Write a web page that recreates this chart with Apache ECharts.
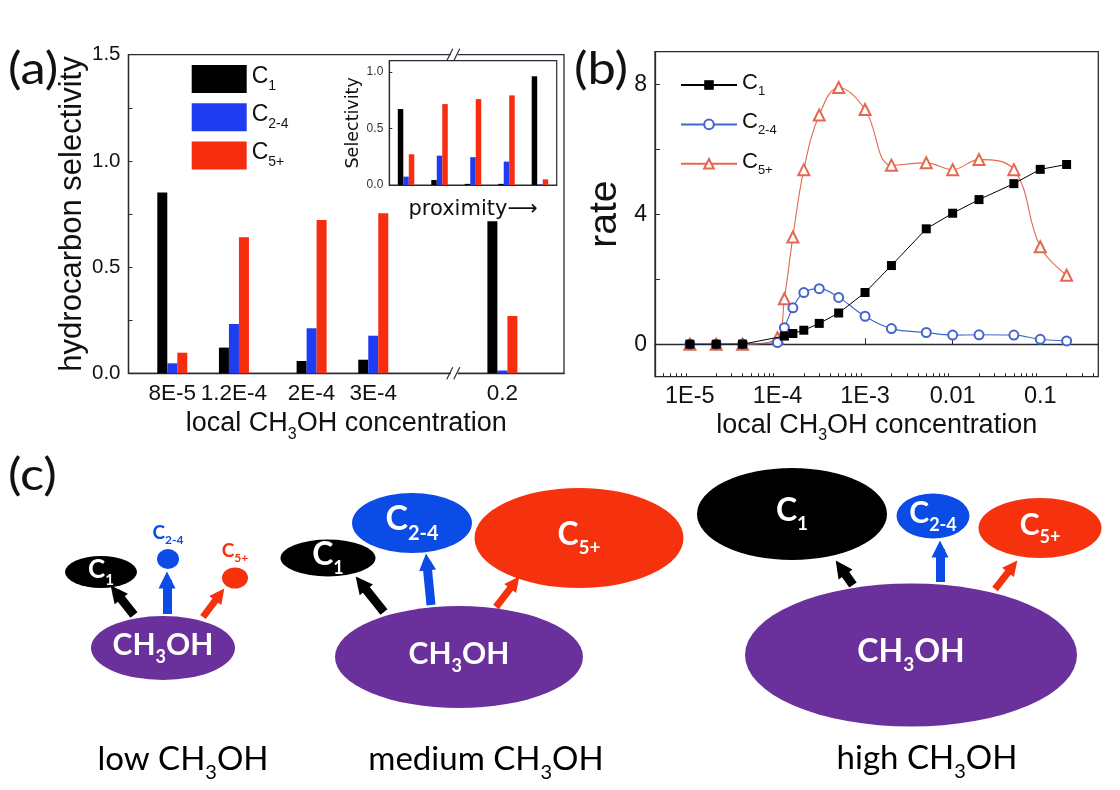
<!DOCTYPE html>
<html><head><meta charset="utf-8">
<script src="https://cdn.jsdelivr.net/npm/echarts@6/dist/echarts.min.js"></script>
<style>html,body{margin:0;padding:0;background:#fff}#c{width:1120px;height:790px}</style>
</head><body><div id="c"></div>
<script>
// ---------------- DATA ----------------
// Panel (a): hydrocarbon selectivity vs local CH3OH concentration
const aConc = [8e-5, 1.2e-4, 2e-4, 3e-4, 0.2];
const aConcLabels = ['8E-5', '1.2E-4', '2E-4', '3E-4', '0.2'];
const aC1  = [0.851, 0.121, 0.058, 0.064, 0.716];
const aC24 = [0.047, 0.232, 0.212, 0.177, 0.013];
const aC5  = [0.097, 0.641, 0.722, 0.754, 0.270];
const aTicks = [0, 0.5, 1.0, 1.5];
// Inset: selectivity vs proximity
const insetCats = ['1', '2', '3', '4', '5'];
const inC1  = [0.672, 0.044, 0.010, 0.010, 0.962];
const inC24 = [0.074, 0.260, 0.246, 0.207, 0.006];
const inC5  = [0.272, 0.716, 0.760, 0.793, 0.050];
// Panel (b): rate vs local CH3OH concentration
const bConcC1 = [1e-5, 2e-5, 4e-5, 1.2e-4, 1.5e-4, 2e-4, 3e-4, 5e-4, 1e-3, 2e-3, 5e-3, 0.01, 0.02, 0.05, 0.1, 0.2];
const bC1     = [0, 0, 0, 0.25, 0.33, 0.43, 0.64, 0.96, 1.59, 2.42, 3.55, 4.03, 4.45, 4.94, 5.38, 5.53];
const bConc   = [1e-5, 2e-5, 4e-5, 1e-4, 1.2e-4, 1.5e-4, 2e-4, 3e-4, 5e-4, 1e-3, 2e-3, 5e-3, 0.01, 0.02, 0.05, 0.1, 0.2];
const bC24    = [0, 0, 0.01, 0.05, 0.51, 1.12, 1.59, 1.71, 1.44, 0.86, 0.48, 0.36, 0.28, 0.29, 0.28, 0.15, 0.10];
const bC5     = [0, 0, 0, 0.20, 1.40, 3.30, 5.37, 7.05, 7.90, 7.22, 5.51, 5.58, 5.37, 5.68, 5.37, 3.00, 2.12];
const bXTicks = [1e-5, 1e-4, 1e-3, 0.01, 0.1];
const bXTickLabels = ['1E-5', '1E-4', '1E-3', '0.01', '0.1'];
const bYLabels = [0, 4, 8];
// Panel (c): schematic (species and CH3OH levels)
const cLevels = ['low', 'medium', 'high'];
const cSpecies = ['C1', 'C2-4', 'C5+', 'CH3OH'];

// ---------------- LAYOUT / STYLE ----------------
const AX = '#2a2a33', TXT = '#111';
const ARIAL = 'Liberation Sans', VERD = 'DejaVu Sans', CAL = 'Lato';
const COL = { c1: '#000000', c24: '#1e3cf2', c5: '#f72d0f' };
const BCOL = { c1: '#000000', c24: '#4466cc', c5: '#e4674f' };
const CCOL = { 'C1': '#000000', 'C2-4': '#0b4be6', 'C5+': '#f5320d', 'CH3OH': '#6a309c' };
// axis break of panel (a): log10 display coordinate
const A_BREAK_LOG = -3.29, A_GAP_SHIFT = 2.455;
const aPos = c => { const l = Math.log10(c); return l > A_BREAK_LOG ? l - A_GAP_SHIFT : l; };

// schematic geometry: [cx, cy, w, h] per species (C1, C2-4, C5+, CH3OH)
const cGeom = {
  low:    [[101, 572, 72, 32], [168, 559, 22, 20], [235, 578, 26, 21], [163, 648, 144, 64]],
  medium: [[328, 558, 95, 37], [412, 523, 120, 60], [579, 538, 209, 100], [459, 657, 248, 102]],
  high:   [[792, 514, 190, 92], [933, 516, 73, 45], [1040, 528, 123, 60], [911, 655, 332, 143]]
};
const cFont = {
  low:    [[26, 15], [19, 12], [19, 12], [30, 18]],
  medium: [[32, 18], [34, 20], [32, 19], [30, 18]],
  high:   [[32, 19], [30, 18], [30, 18], [32, 19]]
};
// arrows: [tail, tip] for C1, C2-4, C5+
const cArrows = {
  low:    [[[134, 615], [111, 586]], [[167, 614], [167, 572]], [[203, 617], [224, 589]]],
  medium: [[[384, 612], [356, 577]], [[431, 605], [426, 554]], [[496, 607], [519, 577]]],
  high:   [[[853, 585], [836, 561]], [[940, 582], [940, 541]], [[995, 589], [1017, 561]]]
};
const cLevelLabelPos = { low: [183, 763], medium: [486, 763], high: [927, 762] };

// ---------------- HELPERS ----------------
function subRich(F, S, color, family, weight) {
  return {
    m: { fontSize: F, lineHeight: F, verticalAlign: 'top', color: color, fontFamily: family, fontWeight: weight || 'normal' },
    s: { fontSize: S, verticalAlign: 'top', color: color, fontFamily: family, fontWeight: weight || 'normal',
         padding: [Math.round(0.9 * F - S / 2), 0, 0, 0] }
  };
}
function speciesRich(name) {
  if (name === 'CH3OH') return '{m|CH}{s|3}{m|OH}';
  return '{m|C}{s|' + name.slice(1) + '}';
}

const chart = echarts.init(document.getElementById('c'), null, { renderer: 'canvas' });

// panel (b) minor ticks (2..9 per decade) inside the axis range
const bMinor = [];
for (let d = -6; d <= -1; d++) for (let k = 2; k <= 9; k++) { const v = k * Math.pow(10, d); if (v > 4e-6 && v < 0.46) bMinor.push(v); }

// panel (c) nodes & arrows
const cNodes = [], cArrowSeries = { 'C1': [], 'C2-4': [], 'C5+': [] };
cLevels.forEach(lv => {
  cSpecies.forEach((sp, i) => {
    const g = cGeom[lv][i], f = cFont[lv][i];
    const outside = lv === 'low' && (sp === 'C2-4' || sp === 'C5+');
    cNodes.push({
      value: g,
      itemStyle: { color: CCOL[sp], opacity: 1 },
      label: {
        show: true, position: outside ? 'top' : 'inside', distance: 3,
        formatter: speciesRich(sp),
        rich: subRich(f[0], f[1], outside ? CCOL[sp] : '#ffffff', CAL, 'bold')
      }
    });
  });
  ['C1', 'C2-4', 'C5+'].forEach((sp, i) => {
    const a = cArrows[lv][i];
    const dx = a[1][0] - a[0][0], dy = a[1][1] - a[0][1], L = Math.hypot(dx, dy);
    const hs = sp === 'C5+' ? 7 : 8;
    cArrowSeries[sp].push({ coords: [a[0], [a[1][0] - dx / L * hs, a[1][1] - dy / L * hs]] });
  });
});

const option = {
  animation: false,
  backgroundColor: '#fff',
  textStyle: { fontFamily: ARIAL },
  grid: [
    { left: 128.5, top: 54.7, width: 435.5, height: 318.6, show: true, borderColor: AX, borderWidth: 1.3, backgroundColor: 'transparent', outerBoundsMode: 'none' },
    { left: 389.3, top: 60.7, width: 167.4, height: 124.3, show: true, borderColor: AX, borderWidth: 1.2, backgroundColor: '#fff', outerBoundsMode: 'none' },
    { left: 655, top: 51.7, width: 443.3, height: 325, show: true, borderColor: AX, borderWidth: 1.3, backgroundColor: 'transparent', outerBoundsMode: 'none' },
    { left: 0, top: 0, width: 1120, height: 790, show: false, outerBoundsMode: 'none' }
  ],
  legend: [
    {
      data: ['C1', 'C2-4', 'C5+'], orient: 'vertical', left: 191.7, top: 65, padding: 0,
      itemWidth: 55, itemHeight: 28, itemGap: 10.3, icon: 'rect', selectedMode: false,
      formatter: n => speciesRich(n),
      textStyle: { rich: subRich(23, 14, TXT, ARIAL) }
    },
    {
      data: ['rate C1', 'rate C2-4', 'rate C5+'], orient: 'vertical', left: 680, top: 72, padding: 0,
      itemWidth: 56, itemHeight: 12, itemGap: 13.4, selectedMode: false,
      formatter: n => speciesRich(n.replace('rate ', '')),
      textStyle: { rich: subRich(22, 13, TXT, ARIAL) }
    }
  ],
  xAxis: [
    {
      gridIndex: 0, type: 'value', min: -4.222, max: -2.978,
      axisLine: { show: true, lineStyle: { color: AX, width: 1.3 } },
      axisTick: { show: false }, splitLine: { show: false },
      axisLabel: {
        customValues: aConc.map(aPos), margin: 9, fontSize: 22.5, color: TXT, fontFamily: ARIAL,
        formatter: v => { const i = aConc.findIndex(c => Math.abs(aPos(c) - v) < 1e-6); return i >= 0 ? aConcLabels[i] : ''; }
      },
      name: '{m|local CH}{s|3}{m|OH concentration}', nameLocation: 'middle', nameGap: 37,
      nameTextStyle: { rich: subRich(27, 16, TXT, ARIAL) }
    },
    {
      gridIndex: 1, type: 'category', data: insetCats,
      axisLine: { show: true, lineStyle: { color: AX, width: 1.2 } },
      axisTick: { show: false }, axisLabel: { show: false }, splitLine: { show: false },
      name: 'proximity\u27F6', nameLocation: 'middle', nameGap: 14,
      nameTextStyle: { fontFamily: VERD, fontSize: 21, color: TXT }
    },
    {
      gridIndex: 2, type: 'log', logBase: 10, min: 4e-6, max: 0.46,
      axisLine: { show: true, lineStyle: { color: AX, width: 1.3 } },
      axisTick: { show: true, inside: true, length: 6, customValues: bXTicks, lineStyle: { color: AX } },
      splitLine: { show: false },
      axisLabel: {
        customValues: bXTicks, margin: 8, fontSize: 23.5, color: TXT, fontFamily: ARIAL,
        formatter: v => { const i = bXTicks.findIndex(t => Math.abs(Math.log10(t) - Math.log10(v)) < 1e-3); return i >= 0 ? bXTickLabels[i] : ''; }
      },
      name: '{m|local CH}{s|3}{m|OH concentration}', nameLocation: 'middle', nameGap: 35,
      nameTextStyle: { rich: subRich(27, 16, TXT, ARIAL) }
    },
    {
      gridIndex: 2, type: 'log', logBase: 10, min: 4e-6, max: 0.46, position: 'bottom', offset: 0,
      axisLine: { show: false }, axisLabel: { show: false }, splitLine: { show: false },
      axisTick: { show: true, inside: true, length: 3.5, customValues: bMinor, lineStyle: { color: AX } }
    },
    { gridIndex: 3, type: 'value', min: 0, max: 1120, show: false }
  ],
  yAxis: [
    {
      gridIndex: 0, type: 'value', min: 0, max: 1.5, interval: 0.5,
      axisLine: { show: true, lineStyle: { color: AX, width: 1.3 } },
      axisTick: { show: true, inside: true, length: 4, customValues: [0, 0.25, 0.5, 0.75, 1, 1.25, 1.5], lineStyle: { color: AX } },
      splitLine: { show: false },
      axisLabel: { customValues: aTicks, formatter: v => v.toFixed(1), fontSize: 20.5, color: TXT, fontFamily: ARIAL, margin: 8 },
      name: 'hydrocarbon selectivity', nameLocation: 'middle', nameRotate: 90, nameGap: 36,
      nameTextStyle: { fontSize: 31, color: TXT, fontFamily: ARIAL }
    },
    {
      gridIndex: 1, type: 'value', min: 0, max: 1.1,
      axisLine: { show: true, lineStyle: { color: AX, width: 1.2 } },
      axisTick: { show: true, inside: true, length: 3, customValues: [0, 0.5, 1], lineStyle: { color: AX } },
      splitLine: { show: false },
      axisLabel: { customValues: [0, 0.5, 1], formatter: v => v.toFixed(1), fontSize: 12, color: '#333', fontFamily: ARIAL, margin: 6 },
      name: 'Selectivity', nameLocation: 'middle', nameRotate: 90, nameGap: 24,
      nameTextStyle: { fontSize: 17.5, color: TXT, fontFamily: VERD }
    },
    {
      gridIndex: 2, type: 'value', min: -1, max: 9,
      axisLine: { show: true, lineStyle: { color: AX, width: 1.3 } },
      axisTick: { show: true, inside: true, length: 5, customValues: [0, 2, 4, 6, 8], lineStyle: { color: AX } },
      splitLine: { show: false },
      axisLabel: { customValues: bYLabels, fontSize: 23, color: TXT, fontFamily: ARIAL, margin: 8 },
      name: 'rate', nameLocation: 'middle', nameRotate: 90, nameGap: 30,
      nameTextStyle: { fontSize: 39, color: TXT, fontFamily: ARIAL }
    },
    { gridIndex: 3, type: 'value', min: 0, max: 790, inverse: true, show: false }
  ],
  series: [
    // panel (a)
    { name: 'C1', type: 'bar', xAxisIndex: 0, yAxisIndex: 0, barWidth: 10, barGap: '0%', itemStyle: { color: COL.c1 }, data: aConc.map((c, i) => [aPos(c), aC1[i]]) },
    { name: 'C2-4', type: 'bar', xAxisIndex: 0, yAxisIndex: 0, barWidth: 10, barGap: '0%', itemStyle: { color: COL.c24 }, data: aConc.map((c, i) => [aPos(c), aC24[i]]) },
    { name: 'C5+', type: 'bar', xAxisIndex: 0, yAxisIndex: 0, barWidth: 10, barGap: '0%', itemStyle: { color: COL.c5 }, data: aConc.map((c, i) => [aPos(c), aC5[i]]) },
    // inset
    { name: 'inset C1', type: 'bar', xAxisIndex: 1, yAxisIndex: 1, barWidth: 5.5, barGap: '0%', itemStyle: { color: COL.c1 }, data: inC1 },
    { name: 'inset C2-4', type: 'bar', xAxisIndex: 1, yAxisIndex: 1, barWidth: 5.5, barGap: '0%', itemStyle: { color: COL.c24 }, data: inC24 },
    { name: 'inset C5+', type: 'bar', xAxisIndex: 1, yAxisIndex: 1, barWidth: 5.5, barGap: '0%', itemStyle: { color: COL.c5 }, data: inC5 },
    // panel (b)
    { name: 'rate C5+', type: 'line', xAxisIndex: 2, yAxisIndex: 2, smooth: 0.4, symbol: 'emptyTriangle', symbolSize: 11,
      lineStyle: { color: BCOL.c5, width: 1.1 }, itemStyle: { color: BCOL.c5, borderColor: BCOL.c5, borderWidth: 1.2 },
      data: bConc.map((c, i) => [c, bC5[i]]), z: 2 },
    { name: 'rate C2-4', type: 'line', xAxisIndex: 2, yAxisIndex: 2, smooth: 0.4, symbol: 'emptyCircle', symbolSize: 9,
      lineStyle: { color: BCOL.c24, width: 1.1 }, itemStyle: { color: BCOL.c24, borderColor: BCOL.c24, borderWidth: 1.2 },
      data: bConc.map((c, i) => [c, bC24[i]]), z: 3 },
    { name: 'rate C1', type: 'line', xAxisIndex: 2, yAxisIndex: 2, smooth: false, symbol: 'rect', symbolSize: 9,
      lineStyle: { color: BCOL.c1, width: 1 }, itemStyle: { color: BCOL.c1 },
      data: bConcC1.map((c, i) => [c, bC1[i]]), z: 4 },
    // panel (c)
    { name: 'schematic', type: 'scatter', xAxisIndex: 4, yAxisIndex: 3, symbol: 'circle',
      itemStyle: { opacity: 1 }, emphasis: { disabled: true },
      symbolSize: v => [v[2], v[3]], data: cNodes, z: 3 },
    ...['C1', 'C2-4', 'C5+'].map(sp => ({
      name: 'arrow ' + sp, type: 'lines', coordinateSystem: 'cartesian2d', xAxisIndex: 4, yAxisIndex: 3,
      symbol: ['none', 'triangle'], symbolSize: sp === 'C5+' ? 15 : 17,
      lineStyle: { color: CCOL[sp], width: sp === 'C5+' ? 7 : 9, opacity: 1, curveness: 0 },
      data: cArrowSeries[sp], z: 2
    }))
  ],
  graphic: []
};
chart.setOption(option);

// decorations: panel labels, level labels, axis-break marks
const bx = chart.convertToPixel({ xAxisIndex: 0 }, A_BREAK_LOG);
const yTop = chart.convertToPixel({ yAxisIndex: 0 }, 1.5);
const yBot = chart.convertToPixel({ yAxisIndex: 0 }, 0);
const breakMark = y => ([
  { type: 'rect', shape: { x: bx - 4, y: y - 2.5, width: 7, height: 5 }, style: { fill: '#fff' }, z: 100 },
  { type: 'line', shape: { x1: bx - 8, y1: y + 6, x2: bx - 2, y2: y - 6 }, style: { stroke: AX, lineWidth: 1.2 }, z: 101 },
  { type: 'line', shape: { x1: bx - 1, y1: y + 6, x2: bx + 5, y2: y - 6 }, style: { stroke: AX, lineWidth: 1.2 }, z: 101 }
]);
const panelLabel = (t, x, y) => ({ type: 'text', x: x, y: y, scaleX: 1.15, style: { text: t, fontSize: 44, fontFamily: CAL, fill: '#111', verticalAlign: 'middle' }, z: 50 });
const levelLabel = lv => ({
  type: 'text', x: cLevelLabelPos[lv][0], y: cLevelLabelPos[lv][1],
  style: { text: '{m|' + lv + ' CH}{s|3}{m|OH}', rich: subRich(33, 20, '#111', CAL), align: 'center', verticalAlign: 'middle' }, z: 50
});
chart.setOption({
  graphic: [
    ...breakMark(yTop), ...breakMark(yBot),
    panelLabel('(a)', 8, 70), panelLabel('(b)', 574, 70), panelLabel('(c)', 8, 476),
    ...cLevels.map(levelLabel)
  ]
});
</script>
</body></html>
